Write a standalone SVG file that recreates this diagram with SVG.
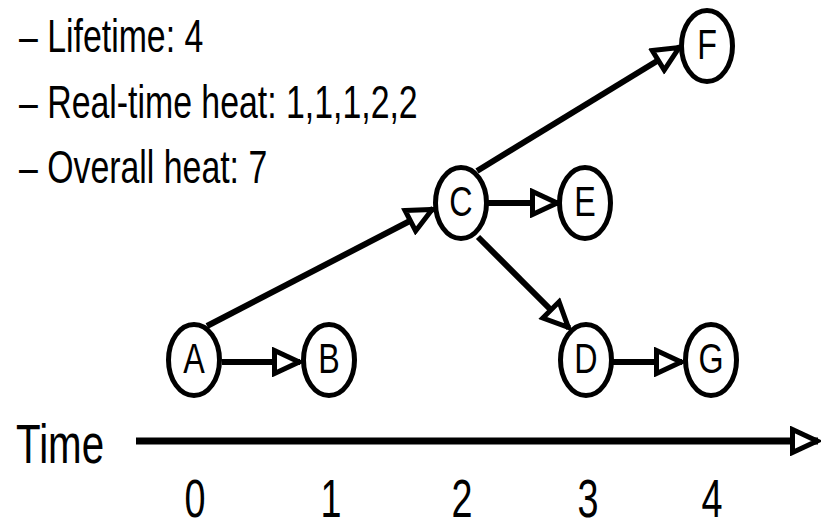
<svg xmlns="http://www.w3.org/2000/svg" width="821" height="522" viewBox="0 0 821 522">
<style>
text{font-family:"Liberation Sans",Arial,sans-serif;fill:#000}
.info{font-size:47px}
.lbl{font-size:43px;text-anchor:middle}
.tick{font-size:54px;text-anchor:middle}
.node ellipse{fill:#fff;stroke:#000;stroke-width:5}
.edge{stroke:#000;stroke-width:6;fill:none;marker-end:url(#ah)}
.axis{stroke:#000;stroke-width:7;fill:none;marker-end:url(#ah)}
</style>
<defs>
<marker id="ah" markerUnits="userSpaceOnUse" viewBox="0 0 32 30" markerWidth="32" markerHeight="30" refX="29" refY="15" orient="auto">
<path d="M3.5,3.5 L28,15 L3.5,26.5 Z" fill="#fff" stroke="#000" stroke-width="5" stroke-linejoin="miter"/>
</marker>
</defs>
<rect width="821" height="522" fill="#fff"/>
<g id="info">
<text class="info" transform="translate(19 52) scale(0.72 1)">– Lifetime: 4</text>
<text class="info" transform="translate(19 118) scale(0.72 1)">– Real-time heat: 1,1,1,2,2</text>
<text class="info" transform="translate(19 183) scale(0.72 1)">– Overall heat: 7</text>
</g>
<g id="connectors">
<line class="edge" x1="207" y1="326" x2="433" y2="209"/>
<line class="edge" x1="222" y1="362" x2="300" y2="362"/>
<line class="edge" x1="477" y1="171" x2="680" y2="47"/>
<line class="edge" x1="488" y1="203" x2="558" y2="203"/>
<line class="edge" x1="478" y1="237" x2="569" y2="328"/>
<line class="edge" x1="613" y1="362" x2="682" y2="362"/>
<line class="axis" x1="136" y1="441" x2="818" y2="441"/>
</g>
<g id="A" class="node"><ellipse cx="194" cy="360" rx="25.5" ry="35.5"/><text class="lbl" transform="translate(194 373) scale(0.75 1)">A</text></g>
<g id="B" class="node"><ellipse cx="329" cy="360" rx="25.5" ry="35.5"/><text class="lbl" transform="translate(329 373) scale(0.75 1)">B</text></g>
<g id="C" class="node"><ellipse cx="461" cy="203" rx="25.5" ry="35.5"/><text class="lbl" transform="translate(461 216) scale(0.75 1)">C</text></g>
<g id="E" class="node"><ellipse cx="585" cy="203" rx="25.5" ry="35.5"/><text class="lbl" transform="translate(585 216) scale(0.75 1)">E</text></g>
<g id="F" class="node"><ellipse cx="707" cy="46" rx="25.5" ry="35.5"/><text class="lbl" transform="translate(707 59) scale(0.75 1)">F</text></g>
<g id="D" class="node"><ellipse cx="586" cy="360" rx="25.5" ry="35.5"/><text class="lbl" transform="translate(586 373) scale(0.75 1)">D</text></g>
<g id="G" class="node"><ellipse cx="711" cy="360" rx="25.5" ry="35.5"/><text class="lbl" transform="translate(711 373) scale(0.75 1)">G</text></g>
<g id="axis-labels">
<text class="info" style="font-size:56px" transform="translate(16 463) scale(0.72 1)">Time</text>
<text class="tick" transform="translate(195 517) scale(0.7 1)">0</text>
<text class="tick" transform="translate(331 517) scale(0.7 1)">1</text>
<text class="tick" transform="translate(462 517) scale(0.7 1)">2</text>
<text class="tick" transform="translate(588 517) scale(0.7 1)">3</text>
<text class="tick" transform="translate(712 517) scale(0.7 1)">4</text>
</g>
</svg>
